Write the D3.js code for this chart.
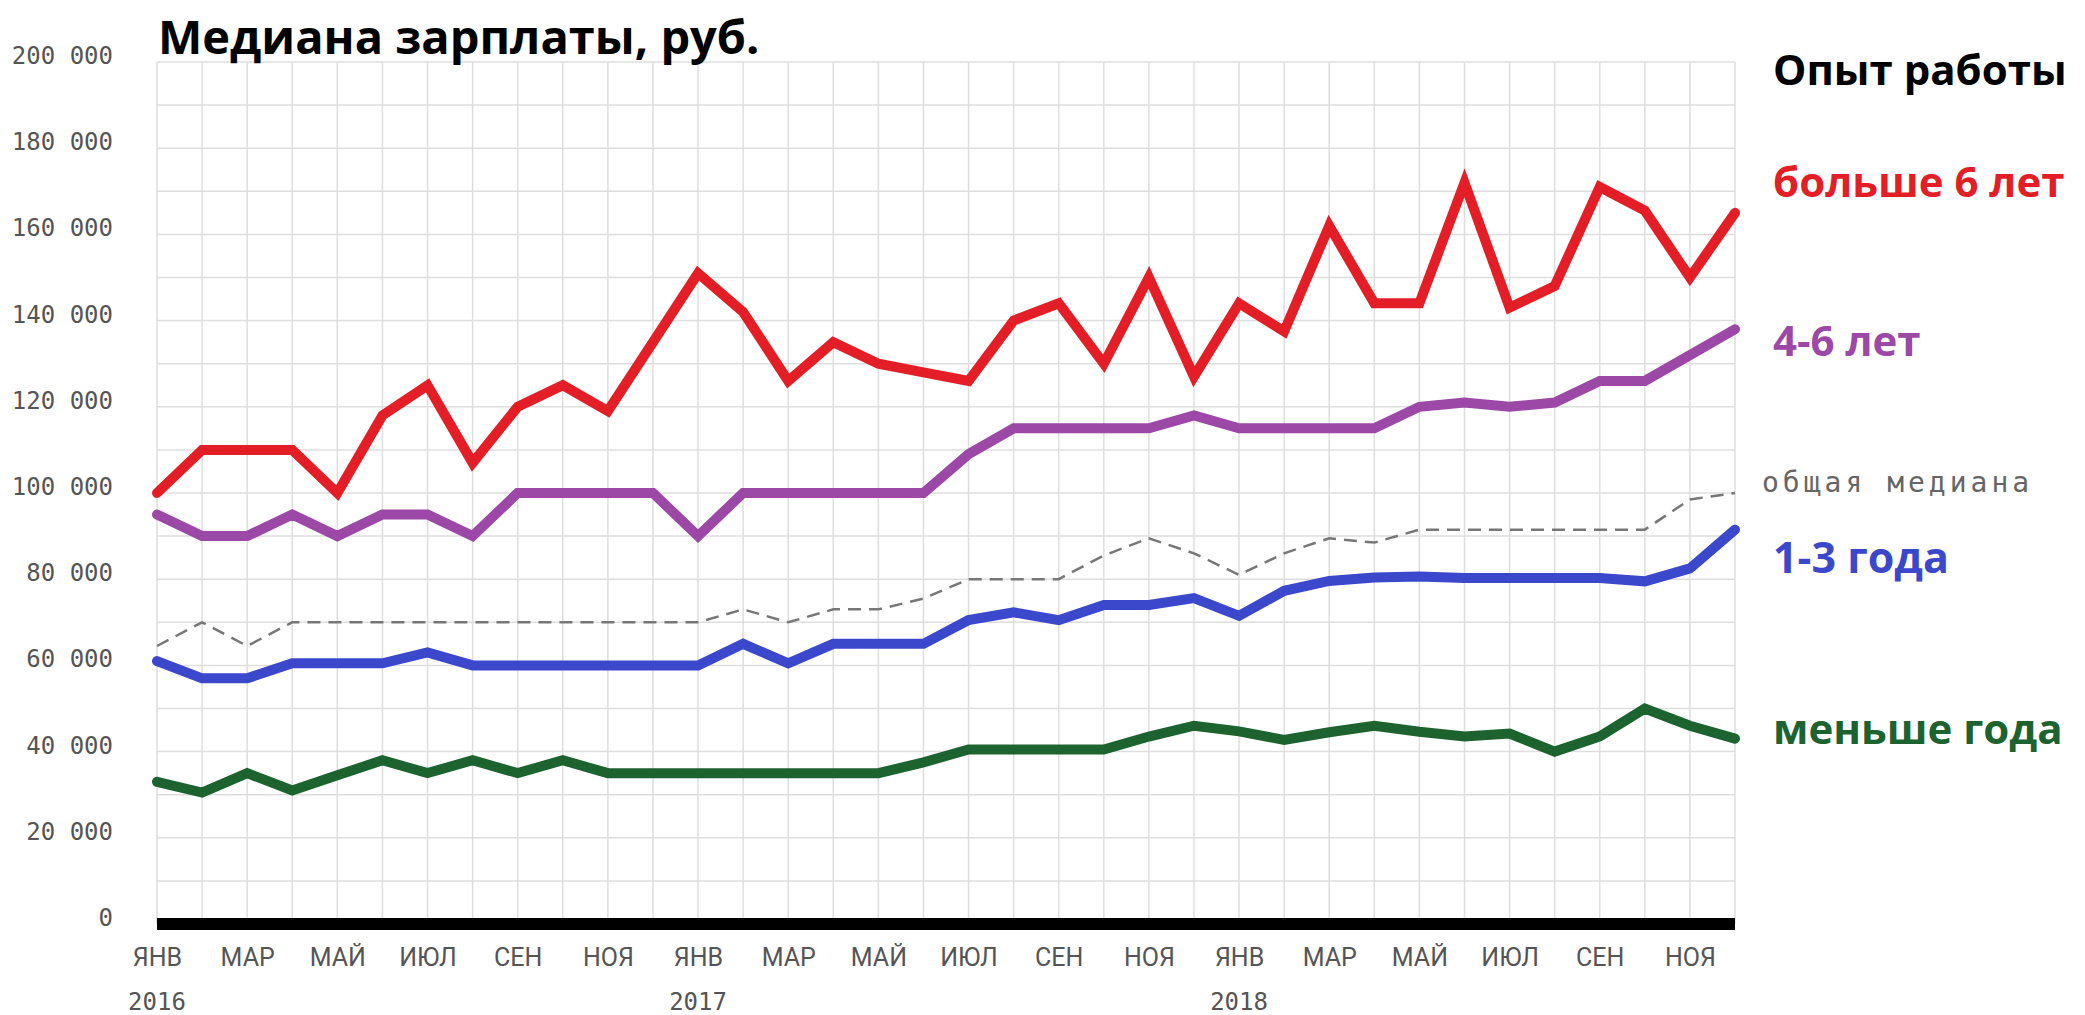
<!DOCTYPE html>
<html>
<head>
<meta charset="utf-8">
<script src="https://cdn.jsdelivr.net/npm/d3@7"></script>
<style>
  body { margin: 0; background: #fff; }
  svg { display: block; }
</style>
</head>
<body>
<div id="chart"></div>
<script>
// months and years of the x axis
var monthNames = ["ЯНВ", "ФЕВ", "МАР", "АПР", "МАЙ", "ИЮН", "ИЮЛ", "АВГ", "СЕН", "ОКТ", "НОЯ", "ДЕК"];
var years = ["2016", "2017", "2018"];

// median salary, thousand rub., Jan 2016 .. Dec 2018
var over6 = [100, 110, 110, 110, 100, 118, 125, 107, 120, 125, 119, 135,
             151, 142, 126, 135, 130, 128, 126, 140, 144, 130, 150, 127,
             144, 137.5, 162, 144, 144, 172, 143, 148, 171, 165.5, 150, 165];
var from4to6 = [95, 90, 90, 95, 90, 95, 95, 90, 100, 100, 100, 100,
                90, 100, 100, 100, 100, 100, 109, 115, 115, 115, 115, 118,
                115, 115, 115, 115, 120, 121, 120, 121, 126, 126, 132, 138];
var overall = [64.5, 70, 64.5, 70, 70, 70, 70, 70, 70, 70, 70, 70,
               70, 73, 70, 73, 73, 75.5, 80, 80, 80, 85.5, 89.5, 86,
               81, 86, 89.5, 88.5, 91.5, 91.5, 91.5, 91.5, 91.5, 91.5, 98.5, 100];
var from1to3 = [61, 57, 57, 60.5, 60.5, 60.5, 63, 60, 60, 60, 60, 60,
                60, 65, 60.5, 65, 65, 65, 70.5, 72.3, 70.5, 74, 74, 75.6,
                71.5, 77.3, 79.6, 80.4, 80.6, 80.3, 80.3, 80.3, 80.3, 79.5, 82.5, 91.5];
var under1 = [33, 30.5, 35, 31, 34.5, 38, 35, 38, 35, 38, 35, 35,
              35, 35, 35, 35, 35, 37.5, 40.5, 40.5, 40.5, 40.5, 43.5, 46,
              44.7, 42.7, 44.5, 46, 44.6, 43.5, 44.2, 40, 43.5, 50, 46, 43];

// y tick labels every 20 000, grid every 10 000
var yTicks = [0, 20000, 40000, 60000, 80000, 100000, 120000, 140000, 160000, 180000, 200000];
var yGrid = [0, 10000, 20000, 30000, 40000, 50000, 60000, 70000, 80000, 90000, 100000,
             110000, 120000, 130000, 140000, 150000, 160000, 170000, 180000, 190000, 200000];

var periods = [];
years.forEach(function(yr) {
  monthNames.forEach(function(m, i) { periods.push(yr + "-" + (i + 1)); });
});

var width = 2085, height = 1015;

var svg = d3.select("#chart")
  .append("svg")
    .attr("width", width)
    .attr("height", height);

var x = d3.scalePoint()
    .domain(periods)
    .range([157, 1735]);

var y = d3.scaleLinear()
    .domain([0, 200000])
    .range([924, 62]);

var ru = d3.formatLocale({decimal: ",", thousands: " ", grouping: [3], currency: ["", ""]});
var fmt = ru.format(",");

// grid
var grid = svg.append("g");
grid.selectAll("line.v")
  .data(periods)
  .enter().append("line")
    .attr("x1", function(d) { return x(d); })
    .attr("x2", function(d) { return x(d); })
    .attr("y1", y(0))
    .attr("y2", y(200000))
    .attr("stroke", "#dedede")
    .attr("stroke-width", 1.5);
grid.selectAll("line.h")
  .data(yGrid)
  .enter().append("line")
    .attr("x1", x(periods[0]))
    .attr("x2", x(periods[periods.length - 1]))
    .attr("y1", function(d) { return y(d); })
    .attr("y2", function(d) { return y(d); })
    .attr("stroke", "#dedede")
    .attr("stroke-width", 1.5);

// y axis labels
var yAxis = svg.append("g")
    .attr("transform", "translate(113,0)")
    .call(d3.axisLeft(y).tickValues(yTicks).tickSize(0).tickPadding(0).tickFormat(fmt));
yAxis.select(".domain").remove();
yAxis.selectAll("text")
    .attr("dy", "0.06em")
    .attr("fill", "#555")
    .style("font-family", "'DejaVu Sans Mono', monospace")
    .style("font-size", "24px");

// x axis labels
var xAxis = svg.append("g")
    .attr("transform", "translate(0,948)")
    .call(d3.axisBottom(x)
      .tickValues(periods.filter(function(d, i) { return i % 2 === 0; }))
      .tickSize(0).tickPadding(0)
      .tickFormat(function(d) { return monthNames[periods.indexOf(d) % 12]; }));
xAxis.select(".domain").remove();
xAxis.selectAll("text")
    .attr("fill", "#555")
    .style("font-family", "'Liberation Sans Narrow', 'Roboto', sans-serif")
    .style("font-size", "25px");

svg.append("g").selectAll("text")
  .data(years)
  .enter().append("text")
    .attr("x", function(d) { return x(d + "-1"); })
    .attr("y", 1010)
    .attr("text-anchor", "middle")
    .attr("fill", "#555")
    .style("font-family", "'DejaVu Sans Mono', monospace")
    .style("font-size", "24px")
    .text(function(d) { return d; });

// baseline bar
svg.append("line")
    .attr("x1", x(periods[0]))
    .attr("x2", x(periods[periods.length - 1]))
    .attr("y1", y(0))
    .attr("y2", y(0))
    .attr("stroke", "#000")
    .attr("stroke-width", 12);

var line = d3.line()
    .x(function(d, i) { return x(periods[i]); })
    .y(function(d) { return y(d * 1000); });

// dashed overall median
svg.append("path")
    .datum(overall)
    .attr("fill", "none")
    .attr("stroke", "#777")
    .attr("stroke-width", 2.5)
    .attr("stroke-dasharray", "13,8")
    .attr("d", line);

var series = [
  {values: under1, color: "#1c6330"},
  {values: from1to3, color: "#3b48cc"},
  {values: from4to6, color: "#9c48a6"},
  {values: over6, color: "#e41e26"}
];

series.forEach(function(s) {
  svg.append("path")
      .datum(s.values)
      .attr("fill", "none")
      .attr("stroke", s.color)
      .attr("stroke-width", 10)
      .attr("stroke-linejoin", "miter")
      .attr("stroke-miterlimit", 3)
      .attr("stroke-linecap", "round")
      .attr("d", line);
});

// title
svg.append("text")
    .attr("x", 158)
    .attr("y", 54)
    .style("font-family", "'Open Sans', sans-serif")
    .style("font-weight", 700)
    .style("font-size", "47px")
    .attr("fill", "#000")
    .text("Медиана зарплаты, руб.");

// legend
var legend = [
  {text: "Опыт работы", color: "#000", y: 85, size: 42},
  {text: "больше 6 лет", color: "#e41e26", y: 197, size: 42},
  {text: "4-6 лет", color: "#9c48a6", y: 356, size: 42},
  {text: "1-3 года", color: "#3b48cc", y: 573, size: 43},
  {text: "меньше года", color: "#1c6330", y: 744, size: 42}
];
svg.append("g").selectAll("text")
  .data(legend)
  .enter().append("text")
    .attr("x", 1773)
    .attr("y", function(d) { return d.y; })
    .attr("fill", function(d) { return d.color; })
    .style("font-family", "'Open Sans', sans-serif")
    .style("font-weight", 700)
    .style("font-size", function(d) { return d.size + "px"; })
    .text(function(d) { return d.text; });

svg.append("text")
    .attr("x", 1762)
    .attr("y", 492)
    .attr("fill", "#666")
    .style("font-family", "'DejaVu Sans Mono', monospace")
    .style("font-size", "28px")
    .style("letter-spacing", "4px")
    .text("общая медиана");
</script>
</body>
</html>
